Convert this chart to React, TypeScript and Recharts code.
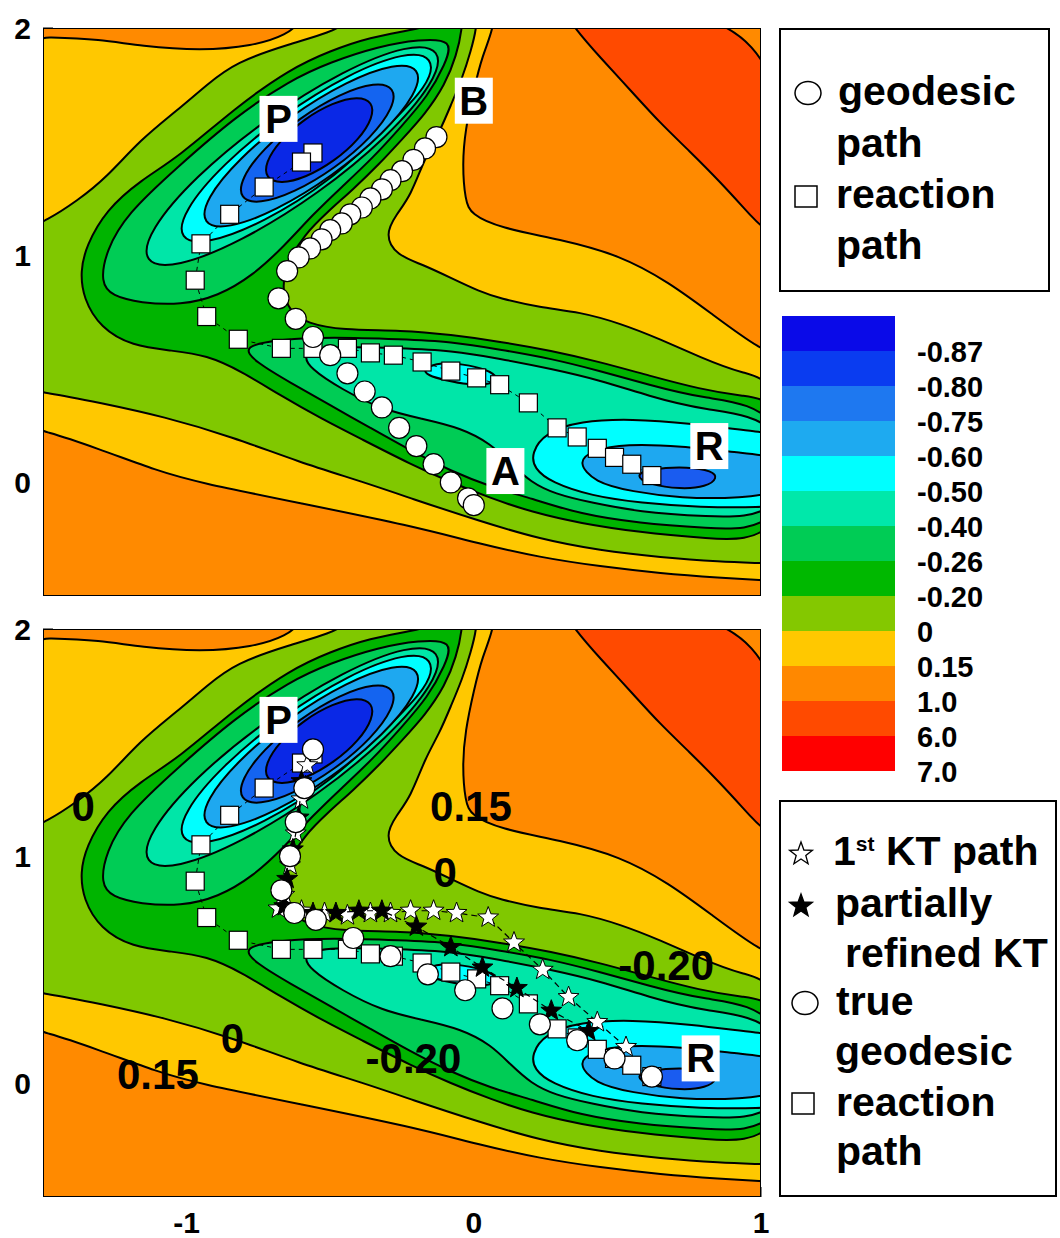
import React from 'react'
import { ScatterChart, Scatter, XAxis, YAxis, Curve } from 'recharts'

type Pt = [number, number]

const FONT = "'Liberation Sans', Arial, sans-serif"

const xTicks = [-1, 0, 1]
const yTicks = [0, 1, 2]

// filled contour regions, painted from the highest level down
const fieldBox: Pt[] = [[-1.5, -0.5], [1, -0.5], [1, 2], [-1.5, 2]]
const redZone: Pt[] = [[0.30, 2.10], [0.35, 2.0], [0.44, 1.87], [0.55, 1.72], [0.65, 1.58], [0.75, 1.46], [0.86, 1.32], [0.96, 1.18], [1.10, 0.99], [1.10, 2.10]]
const yellowZone: Pt[] = [[-1.56, 1.96], [-1.49, 1.96], [-1.30, 1.95], [-1.16, 1.92], [-0.95, 1.90], [-0.77, 1.92], [-0.65, 1.97], [-0.60, 2.03], [-0.58, 2.10], [0.07, 2.10], [0.07, 2.0], [0.03, 1.88], [0, 1.73], [-0.03, 1.55], [-0.04, 1.40], [-0.03, 1.24], [-0.01, 1.18], [0.09, 1.12], [0.30, 1.07], [0.51, 1.00], [0.68, 0.88], [0.82, 0.75], [1.0, 0.58], [1.10, 0.54], [1.10, -0.44], [1.0, -0.43], [0.86, -0.42], [0.65, -0.40], [0.44, -0.37], [0.23, -0.33], [0.02, -0.27], [-0.22, -0.19], [-0.61, -0.09], [-0.96, 0.0], [-1.10, 0.05], [-1.31, 0.15], [-1.50, 0.23], [-1.56, 0.24]]
const lightGreenZone: Pt[] = [[-0.43, 2.08], [0.01, 2.08], [0.01, 2.0], [-0.01, 1.90], [-0.04, 1.78], [-0.08, 1.66], [-0.12, 1.54], [-0.17, 1.43], [-0.22, 1.26], [-0.27, 1.18], [-0.31, 1.09], [-0.27, 1.00], [-0.18, 0.96], [-0.08, 0.90], [0.02, 0.84], [0.09, 0.81], [0.23, 0.77], [0.37, 0.75], [0.51, 0.70], [0.65, 0.63], [0.79, 0.55], [0.93, 0.48], [1.10, 0.44], [1.10, -0.36], [1.0, -0.355], [0.86, -0.35], [0.65, -0.33], [0.44, -0.30], [0.23, -0.25], [0.02, -0.17], [-0.22, -0.07], [-0.38, 0.0], [-0.61, 0.09], [-0.84, 0.20], [-1.08, 0.29], [-1.30, 0.35], [-1.50, 0.40], [-1.56, 0.40], [-1.56, 1.12], [-1.49, 1.15], [-1.38, 1.24], [-1.28, 1.34], [-1.16, 1.51], [-1.03, 1.64], [-0.93, 1.75], [-0.83, 1.85], [-0.64, 1.93], [-0.50, 1.98], [-0.43, 2.03]]
const darkGreenZone: Pt[] = [[-0.11, 2.08], [-0.04, 2.08], [-0.04, 2.0], [-0.06, 1.88], [-0.10, 1.75], [-0.17, 1.62], [-0.25, 1.51], [-0.33, 1.40], [-0.42, 1.29], [-0.51, 1.19], [-0.59, 1.09], [-0.65, 0.97], [-0.67, 0.85], [-0.64, 0.75], [-0.58, 0.70], [-0.46, 0.67], [-0.25, 0.67], [-0.08, 0.65], [0.09, 0.62], [0.27, 0.58], [0.44, 0.53], [0.61, 0.47], [0.79, 0.41], [0.93, 0.38], [1.10, 0.36], [1.10, -0.27], [0.79, -0.245], [0.58, -0.22], [0.37, -0.18], [0.20, -0.13], [0.06, -0.07], [-0.08, 0.0], [-0.22, 0.08], [-0.39, 0.19], [-0.53, 0.28], [-0.67, 0.38], [-0.81, 0.49], [-0.93, 0.56], [-1.05, 0.58], [-1.19, 0.60], [-1.30, 0.68], [-1.36, 0.81], [-1.37, 0.93], [-1.35, 1.04], [-1.28, 1.20], [-1.16, 1.33], [-1.03, 1.43], [-0.83, 1.65], [-0.64, 1.82], [-0.50, 1.90], [-0.36, 1.96], [-0.22, 1.99], [-0.12, 2.02]]
const greenP: Pt[] = [[-1.30, 0.88], [-1.28, 1.02], [-1.21, 1.18], [-1.03, 1.39], [-0.83, 1.61], [-0.64, 1.77], [-0.50, 1.85], [-0.33, 1.92], [-0.19, 1.95], [-0.07, 1.95], [-0.10, 1.84], [-0.16, 1.70], [-0.25, 1.57], [-0.35, 1.43], [-0.46, 1.30], [-0.56, 1.18], [-0.66, 1.04], [-0.77, 0.91], [-0.89, 0.82], [-1.02, 0.78], [-1.16, 0.79], [-1.26, 0.82]]
const greenR: Pt[] = [[-0.81, 0.60], [-0.67, 0.63], [-0.50, 0.64], [-0.25, 0.63], [-0.08, 0.62], [0.09, 0.585], [0.27, 0.545], [0.44, 0.49], [0.61, 0.43], [0.79, 0.37], [1.10, 0.33], [1.10, -0.22], [0.79, -0.20], [0.58, -0.18], [0.37, -0.14], [0.20, -0.07], [0.06, -0.02], [-0.08, 0.05], [-0.22, 0.14], [-0.36, 0.24], [-0.50, 0.34], [-0.64, 0.44], [-0.76, 0.53]]
const aquaP: Pt[] = [[-0.109, 1.91], [-0.133, 1.764], [-0.30, 1.52], [-0.539, 1.271], [-0.813, 1.057], [-1.038, 0.944], [-1.155, 0.963], [-1.131, 1.108], [-0.974, 1.342], [-0.725, 1.601], [-0.451, 1.816], [-0.226, 1.929]]
const aquaR: Pt[] = [[-0.60, 0.57], [-0.50, 0.60], [-0.25, 0.59], [-0.08, 0.58], [0.09, 0.545], [0.27, 0.50], [0.44, 0.45], [0.61, 0.38], [0.79, 0.32], [1.10, 0.28], [1.10, -0.16], [0.79, -0.15], [0.58, -0.13], [0.41, -0.09], [0.28, -0.05], [0.20, 0.0], [0.13, 0.08], [0.06, 0.17], [-0.045, 0.24], [-0.18, 0.28], [-0.32, 0.32], [-0.46, 0.41], [-0.57, 0.50]]
const cyanP: Pt[] = [[-0.137, 1.876], [-0.155, 1.748], [-0.306, 1.559], [-0.501, 1.324], [-0.735, 1.142], [-0.929, 1.048], [-1.03, 1.067], [-1.011, 1.195], [-0.878, 1.396], [-0.666, 1.619], [-0.432, 1.801], [-0.238, 1.895]]
const cyanMid: Pt[] = [[-0.18, 0.50], [-0.11, 0.53], [-0.04, 0.52], [0.04, 0.50], [0.09, 0.46], [0.06, 0.43], [-0.02, 0.43], [-0.10, 0.45], [-0.16, 0.47]]
const cyanR: Pt[] = [[0.20, 0.13], [0.25, 0.22], [0.37, 0.27], [0.55, 0.28], [0.75, 0.26], [1.0, 0.22], [1.10, 0.21], [1.10, -0.10], [1.0, -0.11], [0.79, -0.11], [0.58, -0.09], [0.41, -0.06], [0.27, 0.0], [0.21, 0.06]]
const blueP: Pt[] = [[-0.184, 1.826], [-0.198, 1.713], [-0.311, 1.538], [-0.491, 1.348], [-0.692, 1.193], [-0.859, 1.115], [-0.948, 1.135], [-0.934, 1.247], [-0.821, 1.422], [-0.641, 1.613], [-0.44, 1.768], [-0.273, 1.846]]
const blueR: Pt[] = [[0.36, 0.09], [0.41, 0.14], [0.53, 0.17], [0.72, 0.16], [0.93, 0.13], [1.10, 0.11], [1.10, -0.04], [0.93, -0.07], [0.72, -0.07], [0.55, -0.04], [0.42, 0.0]]
const deepP: Pt[] = [[-0.274, 1.739], [-0.279, 1.651], [-0.355, 1.52], [-0.483, 1.382], [-0.627, 1.274], [-0.749, 1.225], [-0.816, 1.248], [-0.811, 1.336], [-0.735, 1.467], [-0.608, 1.604], [-0.464, 1.712], [-0.342, 1.762]]
const deepR: Pt[] = [[0.56, 0.03], [0.61, 0.06], [0.75, 0.07], [0.83, 0.05], [0.85, 0.02], [0.81, -0.02], [0.72, -0.03], [0.61, -0.01]]
const coreP: Pt[] = [[-0.352, 1.675], [-0.351, 1.606], [-0.399, 1.51], [-0.486, 1.413], [-0.586, 1.341], [-0.673, 1.314], [-0.725, 1.338], [-0.726, 1.407], [-0.677, 1.503], [-0.591, 1.60], [-0.49, 1.672], [-0.403, 1.70]]

// paths
const reactionPath: Pt[] = [[-0.56, 1.45], [-0.60, 1.41], [-0.73, 1.30], [-0.85, 1.18], [-0.95, 1.05], [-0.97, 0.89], [-0.93, 0.73], [-0.82, 0.63], [-0.67, 0.59], [-0.56, 0.59], [-0.44, 0.59], [-0.36, 0.57], [-0.28, 0.56], [-0.18, 0.53], [-0.08, 0.49], [0.01, 0.46], [0.09, 0.43], [0.19, 0.35], [0.29, 0.24], [0.36, 0.20], [0.43, 0.15], [0.49, 0.11], [0.55, 0.08], [0.62, 0.03]]
const geodesicPath: Pt[] = [[-0.13, 1.52], [-0.17, 1.47], [-0.21, 1.42], [-0.25, 1.37], [-0.29, 1.33], [-0.32, 1.29], [-0.36, 1.25], [-0.39, 1.21], [-0.43, 1.18], [-0.46, 1.14], [-0.50, 1.11], [-0.53, 1.07], [-0.57, 1.03], [-0.61, 0.99], [-0.65, 0.93], [-0.68, 0.81], [-0.62, 0.72], [-0.56, 0.64], [-0.50, 0.56], [-0.44, 0.48], [-0.38, 0.40], [-0.32, 0.33], [-0.26, 0.24], [-0.20, 0.16], [-0.14, 0.08], [-0.08, 0.0], [-0.02, -0.07], [0.0, -0.10]]
const trueGeodesic: Pt[] = [[-0.56, 1.47], [-0.59, 1.30], [-0.62, 1.15], [-0.64, 1.00], [-0.67, 0.85], [-0.625, 0.75], [-0.55, 0.72], [-0.42, 0.64], [-0.29, 0.56], [-0.16, 0.48], [-0.03, 0.41], [0.10, 0.33], [0.23, 0.26], [0.36, 0.19], [0.49, 0.11], [0.62, 0.03]]
const ktFirst: Pt[] = [[-0.58, 1.40], [-0.60, 1.25], [-0.62, 1.10], [-0.64, 0.96], [-0.66, 0.83], [-0.68, 0.77], [-0.60, 0.76], [-0.52, 0.75], [-0.44, 0.74], [-0.36, 0.75], [-0.29, 0.75], [-0.22, 0.76], [-0.14, 0.76], [-0.06, 0.75], [0.05, 0.73], [0.14, 0.62], [0.24, 0.50], [0.33, 0.38], [0.43, 0.27], [0.53, 0.16]]
const ktRefined: Pt[] = [[-0.60, 1.33], [-0.61, 1.17], [-0.63, 1.03], [-0.65, 0.90], [-0.66, 0.78], [-0.56, 0.75], [-0.48, 0.75], [-0.40, 0.76], [-0.32, 0.76], [-0.20, 0.69], [-0.08, 0.60], [0.03, 0.51], [0.15, 0.42], [0.27, 0.32], [0.40, 0.23]]

const topTags = [{ x: -0.68, y: 1.60, t: 'P' }, { x: 0.0, y: 1.68, t: 'B' }, { x: 0.11, y: 0.05, t: 'A' }, { x: 0.82, y: 0.16, t: 'R' }]
const bottomTags = [{ x: -0.68, y: 1.60, t: 'P' }, { x: 0.79, y: 0.11, t: 'R' }]
const contourTags = [
  { x: -1.36, y: 1.22, t: '0' }, { x: -0.01, y: 1.22, t: '0.15' }, { x: -0.10, y: 0.93, t: '0' },
  { x: 0.67, y: 0.52, t: '-0.20' }, { x: -0.84, y: 0.20, t: '0' }, { x: -0.21, y: 0.11, t: '-0.20' },
  { x: -1.10, y: 0.04, t: '0.15' },
]

const barColors = ['#0A0AE8', '#0A3CF0', '#1E78F0', '#1EAAF0', '#00FFFF', '#00E8AA', '#00CC55', '#00B800', '#84C800', '#FFC800', '#FF8800', '#FF4A00', '#FF0000']
const barLevels = ['-0.87', '-0.80', '-0.75', '-0.60', '-0.50', '-0.40', '-0.26', '-0.20', '0', '0.15', '1.0', '6.0', '7.0']

const layers = [
  { pts: fieldBox, fill: '#FF8A00', stroke: 'none', curve: 'linearClosed' },
  { pts: redZone, fill: '#FF4A00' },
  { pts: yellowZone, fill: '#FFC800' },
  { pts: lightGreenZone, fill: '#80C800' },
  { pts: darkGreenZone, fill: '#00B400' },
  { pts: greenP, fill: '#00CC55' },
  { pts: greenR, fill: '#00CC55' },
  { pts: aquaP, fill: '#00E6A8' },
  { pts: aquaR, fill: '#00E6A8' },
  { pts: cyanP, fill: '#00FFFF' },
  { pts: cyanMid, fill: '#00FFFF' },
  { pts: cyanR, fill: '#00FFFF' },
  { pts: blueP, fill: '#1EA8F0' },
  { pts: blueR, fill: '#1EA8F0' },
  { pts: deepP, fill: '#1464F0' },
  { pts: deepR, fill: '#1A5CF0' },
  { pts: coreP, fill: '#0A28E6' },
]

const toXY = (pts: Pt[]) => pts.map(([x, y]) => ({ x, y }))

const starPath = (cx: number, cy: number, R: number, r: number) => {
  let d = ''
  for (let i = 0; i < 10; i++) {
    const a = -Math.PI / 2 + (i * Math.PI) / 5
    const rad = i % 2 === 0 ? R : r
    d += (i ? 'L' : 'M') + (cx + rad * Math.cos(a)).toFixed(1) + ',' + (cy + rad * Math.sin(a)).toFixed(1)
  }
  return d + 'Z'
}

const squareMark = (p: any) => <rect x={p.cx - 9} y={p.cy - 9} width={18} height={18} fill="#fff" stroke="#000" strokeWidth={1.2} />
const circleMark = (p: any) => <circle cx={p.cx} cy={p.cy} r={10.5} fill="#fff" stroke="#000" strokeWidth={1.2} />
const whiteStar = (p: any) => <path d={starPath(p.cx, p.cy, 11, 4.6)} fill="#fff" stroke="#000" strokeWidth={1} />
const blackStar = (p: any) => <path d={starPath(p.cx, p.cy, 11, 4.6)} fill="#000" stroke="#000" strokeWidth={1} />
const tagMark = (p: any) => (
  <g>
    <rect x={p.cx - 19} y={p.cy - 23} width={38} height={46} fill="#fff" />
    <text x={p.cx} y={p.cy + 14} textAnchor="middle" fontSize={40} fontWeight="bold" fontFamily={FONT} fill="#000">{p.payload.t}</text>
  </g>
)
const levelMark = (p: any) => (
  <text x={p.cx} y={p.cy + 15} textAnchor="middle" fontSize={42} fontWeight="bold" fontFamily={FONT} fill="#000">{p.payload.t}</text>
)
const noMark = () => <g />

const xTick = (p: any) => (
  <text x={p.x} y={p.y + 19} textAnchor="middle" fontSize={30} fontWeight="bold" fontFamily={FONT} fill="#000">{p.payload.value}</text>
)
const yTick = (p: any) => (
  <text x={p.x} y={p.y + 11} textAnchor="end" fontSize={30} fontWeight="bold" fontFamily={FONT} fill="#000">{p.payload.value}</text>
)

function contourLayer(l: any, i: number) {
  return (
    <Scatter
      key={'layer' + i}
      data={toXY(l.pts)}
      isAnimationActive={false}
      shape={noMark}
      line={(p: any) => (
        <Curve points={p.points} type={l.curve ?? 'basisClosed'} fill={l.fill} stroke={l.stroke ?? '#000'} strokeWidth={2} />
      )}
    />
  )
}

function Panel({ bottom }: { bottom: boolean }) {
  return (
    <ScatterChart width={770} height={bottom ? 637 : 606} margin={{ top: 28, right: 9, bottom: bottom ? 0 : 10, left: 0 }}>
      <XAxis
        type="number" dataKey="x" domain={[-1.5, 1]} ticks={xTicks} allowDataOverflow hide={!bottom}
        height={41} axisLine={false} tickSize={-10} tickMargin={27} tickLine={{ stroke: '#000' }} tick={xTick}
      />
      <YAxis
        type="number" dataKey="y" domain={[-0.5, 2]} ticks={yTicks} allowDataOverflow
        width={43} axisLine={false} tickSize={-10} tickMargin={22} tickLine={{ stroke: '#000' }} tick={yTick}
      />
      {layers.map(contourLayer)}
      <Scatter data={toXY(reactionPath)} isAnimationActive={false} shape={squareMark}
        line={{ stroke: '#000', strokeWidth: 1, strokeDasharray: '4 4' }} />
      {!bottom && <Scatter data={toXY(geodesicPath)} isAnimationActive={false} shape={circleMark} />}
      {bottom && <Scatter data={toXY(ktFirst)} isAnimationActive={false} shape={whiteStar}
        line={{ stroke: '#000', strokeWidth: 1.2, strokeDasharray: '6 4' }} />}
      {bottom && <Scatter data={toXY(ktRefined)} isAnimationActive={false} shape={blackStar}
        line={{ stroke: '#000', strokeWidth: 1.2, strokeDasharray: '6 4' }} />}
      {bottom && <Scatter data={toXY(trueGeodesic)} isAnimationActive={false} shape={circleMark} />}
      {bottom && <Scatter data={contourTags} isAnimationActive={false} shape={levelMark} />}
      <Scatter data={bottom ? bottomTags : topTags} isAnimationActive={false} shape={tagMark} />
      {contourLayer({ pts: fieldBox, fill: 'none', curve: 'linearClosed' }, 99)}
    </ScatterChart>
  )
}

const textStyle = (left: number, cy: number, size = 41): React.CSSProperties => ({
  position: 'absolute', left, top: cy - 28, height: 52, lineHeight: '52px', fontSize: size,
  fontWeight: 'bold', fontFamily: FONT, color: '#000', whiteSpace: 'nowrap',
})

const Sym = ({ cx, cy, kind }: { cx: number; cy: number; kind: string }) => (
  <svg style={{ position: 'absolute', left: cx - 15, top: cy - 15 }} width={30} height={30}>
    {kind === 'circle' && <ellipse cx={15} cy={15} rx={13} ry={11.5} fill="#fff" stroke="#000" strokeWidth={1.5} />}
    {kind === 'square' && <rect x={4} y={4} width={22} height={21} fill="#fff" stroke="#000" strokeWidth={1.5} />}
    {kind === 'star' && <path d={starPath(15, 16, 12, 5)} fill="#fff" stroke="#000" strokeWidth={1.3} />}
    {kind === 'bstar' && <path d={starPath(15, 16, 12, 5)} fill="#000" stroke="#000" strokeWidth={1.3} />}
  </svg>
)

export default function App() {
  return (
    <div style={{ position: 'absolute', left: 0, top: 0, width: 1060, height: 1238, background: '#fff', overflow: 'hidden' }}>
      <div style={{ position: 'absolute', left: 0, top: 0 }}>
        <Panel bottom={false} />
      </div>
      <div style={{ position: 'absolute', left: 0, top: 601 }}>
        <Panel bottom={true} />
      </div>

      {/* upper legend */}
      <div style={{ position: 'absolute', left: 779, top: 28, width: 271, height: 264, border: '2px solid #000', boxSizing: 'border-box' }} />
      <Sym cx={808} cy={93} kind="circle" />
      <div style={textStyle(838, 93)}>geodesic</div>
      <div style={textStyle(836, 145)}>path</div>
      <Sym cx={806} cy={197} kind="square" />
      <div style={textStyle(836, 196)}>reaction</div>
      <div style={textStyle(836, 247)}>path</div>

      {/* colour bar */}
      {barColors.map((c, i) => (
        <div key={c} style={{ position: 'absolute', left: 782, top: 316 + i * 35, width: 113, height: 35, background: c }} />
      ))}
      {barLevels.map((t, i) => (
        <div key={t} style={{ position: 'absolute', left: 917, top: 352 + i * 35 - 17, height: 34, lineHeight: '34px', fontSize: 29, fontWeight: 'bold', fontFamily: FONT }}>{t}</div>
      ))}

      {/* lower legend */}
      <div style={{ position: 'absolute', left: 779, top: 800, width: 278, height: 397, border: '2px solid #000', boxSizing: 'border-box' }} />
      <Sym cx={801} cy={853} kind="star" />
      <div style={textStyle(833, 853)}>1<sup style={{ fontSize: 21, verticalAlign: 'top', lineHeight: '38px' }}>st</sup> KT path</div>
      <Sym cx={801} cy={905} kind="bstar" />
      <div style={textStyle(835, 905)}>partially</div>
      <div style={textStyle(845, 955)}>refined KT</div>
      <Sym cx={805} cy={1003} kind="circle" />
      <div style={textStyle(836, 1003)}>true</div>
      <div style={textStyle(835, 1053)}>geodesic</div>
      <Sym cx={803} cy={1104} kind="square" />
      <div style={textStyle(836, 1104)}>reaction</div>
      <div style={textStyle(836, 1153)}>path</div>
    </div>
  )
}
